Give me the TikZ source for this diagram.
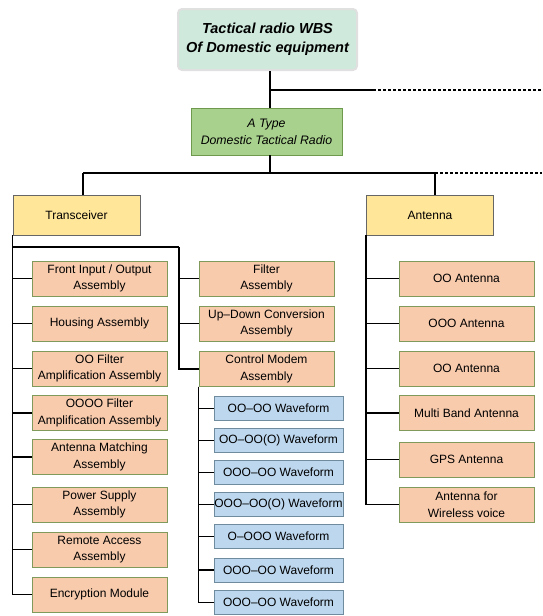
\documentclass[tikz,border=0pt]{standalone}
\usepackage{fontspec}
\setmainfont{Liberation Sans}
\definecolor{mint}{HTML}{CFE9DC}
\definecolor{typegreen}{HTML}{A9D18E}
\definecolor{typeborder}{HTML}{6E9A4E}
\definecolor{yel}{HTML}{FFE699}
\definecolor{salmon}{HTML}{F8CBAD}
\definecolor{salborder}{HTML}{7F9A5A}
\definecolor{wave}{HTML}{BDD7EE}
\definecolor{waveborder}{HTML}{6F8C9E}
\tikzset{
  base/.style={draw, line width=0.9pt, align=center, inner sep=0pt, font=\fontsize{12}{16.5}\selectfont},
  topbox/.style={base, fill=mint, draw=black!12, line width=2pt, rounded corners=4pt,
    minimum width=179pt, minimum height=61pt, font=\fontsize{14.5}{18.5}\selectfont\bfseries\itshape},
  typebox/.style={base, fill=typegreen, draw=typeborder, minimum width=151pt, minimum height=47pt,
    font=\fontsize{12.3}{17}\selectfont\itshape},
  catbox/.style={base, fill=yel, draw=black!60, minimum width=127pt, minimum height=40pt},
  itembox/.style={base, fill=salmon, draw=salborder, minimum width=135pt, minimum height=35pt},
  wavebox/.style={base, fill=wave, draw=waveborder, minimum width=129pt, minimum height=24pt},
  conn/.style={line width=1.4pt},
  dconn/.style={line width=1.1pt, dashed, dash pattern=on 3pt off 2pt},
}
\begin{document}
\begin{tikzpicture}[x=1pt,y=-1pt]
\useasboundingbox (0,0) rectangle (542,616);
% top
\node[topbox] (top) at (267.5,39.5) {Tactical radio WBS\\Of Domestic equipment};
\node[typebox] (type) at (266.5,131.5) {A Type\\Domestic Tactical Radio};
\coordinate (j1) at (270,90);
\coordinate (j1s) at (373,90);
\coordinate (j1e) at (542,90);
\coordinate (j2) at (270,173);
\coordinate (j2l) at (83,173);
\coordinate (j2r) at (435,173);
\coordinate (j2e) at (542,173);
% categories
\node[catbox] (trans) at (76.5,215) {Transceiver};
\node[catbox] (ant) at (430,215) {Antenna};
% transceiver items
\node[itembox] (fio) at (99.5,278.5) {Front Input / Output\\Assembly};
\node[itembox] (hou) at (99.5,323.5) {Housing Assembly};
\node[itembox] (oof) at (99.5,368.5) {OO Filter\\Amplification Assembly};
\node[itembox] (oooof) at (99.5,413) {OOOO Filter\\Amplification Assembly};
\node[itembox] (amat) at (99.5,457) {Antenna Matching\\Assembly};
\node[itembox] (psu) at (99.5,504.5) {Power Supply\\Assembly};
\node[itembox] (rem) at (99.5,549.5) {Remote Access\\Assembly};
\node[itembox] (enc) at (99.5,594.5) {Encryption Module};
% middle
\coordinate (mbus) at (179,247);
\node[itembox] (filt) at (266.5,278.5) {Filter\\Assembly};
\node[itembox] (updn) at (266.5,323.5) {Up--Down Conversion\\Assembly};
\node[itembox] (cmod) at (266.5,369) {Control Modem\\Assembly};
% waveforms
\node[wavebox] (w1) at (278.5,408.5) {OO--OO Waveform};
\node[wavebox] (w2) at (278.5,440.5) {OO--OO(O) Waveform};
\node[wavebox] (w3) at (278.5,472.5) {OOO--OO Waveform};
\node[wavebox] (w4) at (278.5,504.5) {OOO--OO(O) Waveform};
\node[wavebox] (w5) at (278.5,536.5) {O--OOO Waveform};
\node[wavebox] (w6) at (278.5,570) {OOO--OO Waveform};
\node[wavebox] (w7) at (278.5,602.5) {OOO--OO Waveform};
% antennas
\node[itembox] (a1) at (466.5,278.5) {OO Antenna};
\node[itembox] (a2) at (466.5,323.5) {OOO Antenna};
\node[itembox] (a3) at (466.5,368.5) {OO Antenna};
\node[itembox] (a4) at (466.5,413) {Multi Band Antenna};
\node[itembox] (a5) at (466.5,459.5) {GPS Antenna};
\node[itembox] (a6) at (466.5,504.5) {Antenna for\\Wireless voice};
% connectors
\draw[conn] (top.south -| j1) -- (type.north -| j1);
\draw[conn] (j1) -- (j1s);
\draw[dconn] (j1s) -- (j1e);
\draw[conn] (type.south -| j2) -- (j2);
\draw[conn] (j2l) -- (j2r);
\draw[dconn] (j2r) -- (j2e);
\draw[conn] (j2l) -- (trans.north -| j2l);
\draw[conn] (j2r) -- (ant.north -| j2r);
\foreach \n in {fio,hou,oof,oooof,amat,psu,rem,enc}
  \draw[conn] (trans.south west) |- (\n.west);
\draw[conn] (trans.south west |- mbus) -- (mbus);
\foreach \n in {filt,updn,cmod}
  \draw[conn] (mbus) |- (\n.west);
\foreach \n in {w1,w2,w3,w4,w5,w6,w7}
  \draw[conn] (cmod.south west) |- (\n.west);
\foreach \n in {a1,a2,a3,a4,a5,a6}
  \draw[conn] (ant.south west) |- (\n.west);
\end{tikzpicture}
\end{document}
